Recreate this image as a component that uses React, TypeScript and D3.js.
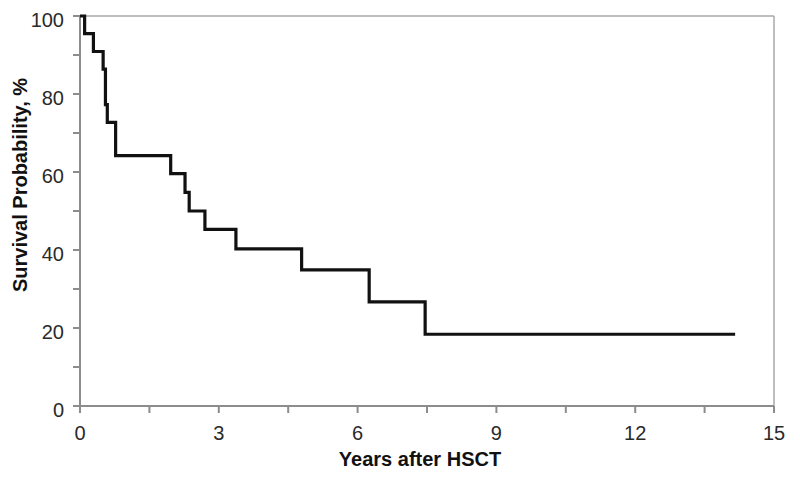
import React from "react";
import * as d3 from "d3";

const times = [0, 0.1, 0.29, 0.5, 0.55, 0.59, 0.77, 1.96, 2.27, 2.36, 2.7, 3.37, 4.79, 6.25, 7.46, 14.16];
const survival = [100, 95.5, 90.9, 86.4, 77.3, 72.7, 64.2, 59.6, 54.8, 50, 45.3, 40.3, 34.9, 26.7, 18.4, 18.4];
const xTicks = [0, 1.5, 3, 4.5, 6, 7.5, 9, 10.5, 12, 13.5, 15];
const xTickLabels = ["0", "", "3", "", "6", "", "9", "", "12", "", "15"];
const yTicks = [0, 10, 20, 30, 40, 50, 60, 70, 80, 90, 100];
const yTickLabels = ["0", "", "20", "", "40", "", "60", "", "80", "", "100"];

const W = 800, H = 478;
const L = 80, R = 774, T = 16, B = 406;

export default function App() {
  const x = d3.scaleLinear().domain([0, 15]).range([L, R]);
  const y = d3.scaleLinear().domain([0, 100]).range([B, T]);
  const pts = times.map((t, i) => [t, survival[i]] as [number, number]);
  const line = d3.line<[number, number]>().x(d => x(d[0])).y(d => y(d[1])).curve(d3.curveStepAfter);
  const axisColor = "#8c8c8c";
  const font = "Liberation Sans, Arial, sans-serif";
  return (
    <svg width={W} height={H} style={{ position: "absolute", left: 0, top: 0, background: "#fff" }}>
      <rect x={0} y={0} width={W} height={H} fill="#fff" />
      <line x1={L} x2={R} y1={T} y2={T} stroke="#a8a8a8" strokeWidth={1.5} />
      <line x1={R} x2={R} y1={T} y2={B} stroke="#a8a8a8" strokeWidth={1.5} />
      <line x1={L} x2={R} y1={B} y2={B} stroke={axisColor} strokeWidth={2} />
      <line x1={L} x2={L} y1={T} y2={B} stroke={axisColor} strokeWidth={2} />
      {xTicks.map((t, i) => (
        <g key={"xt" + i}>
          <line x1={x(t)} x2={x(t)} y1={B} y2={B + 7} stroke={axisColor} strokeWidth={2} />
          {xTickLabels[i] && (
            <text x={x(t)} y={B + 34} textAnchor="middle" fontFamily={font} fontSize={20} fill="#2a2a2a">
              {xTickLabels[i]}
            </text>
          )}
        </g>
      ))}
      {yTicks.map((t, i) => (
        <g key={"yt" + i}>
          <line x1={L - 7} x2={L} y1={y(t)} y2={y(t)} stroke={axisColor} strokeWidth={2} />
          {yTickLabels[i] && (
            <text x={L - 16} y={y(t) + 10.5} textAnchor="end" fontFamily={font} fontSize={20} fill="#2a2a2a">
              {yTickLabels[i]}
            </text>
          )}
        </g>
      ))}
      <path d={line(pts) || ""} fill="none" stroke="#111" strokeWidth={3.2} strokeLinejoin="miter" />
      <text x={420} y={466} textAnchor="middle" fontFamily={font} fontSize={20} fontWeight="bold" fill="#111">
        Years after HSCT
      </text>
      <text
        transform={`translate(27, 185) rotate(-90)`}
        textAnchor="middle"
        fontFamily={font}
        fontSize={20}
        fontWeight="bold"
        fill="#111"
      >
        Survival Probability, %
      </text>
    </svg>
  );
}
